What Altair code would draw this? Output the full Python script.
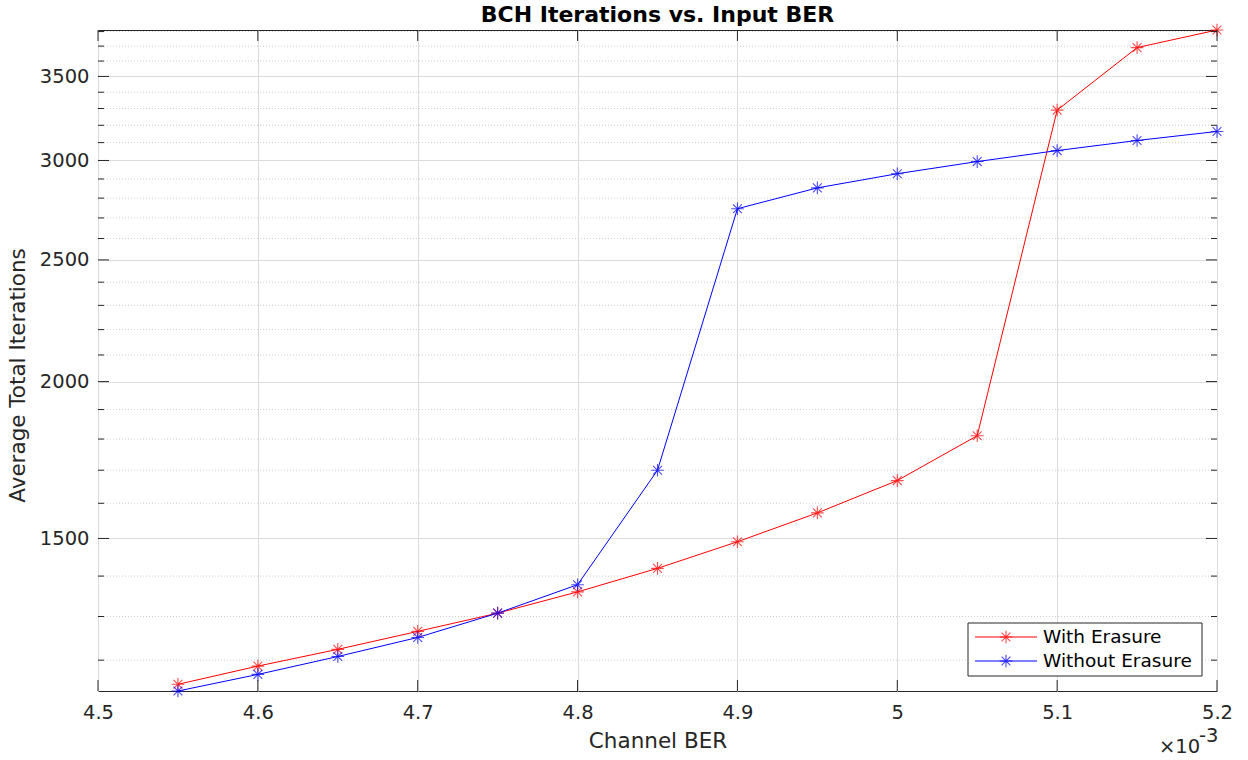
import altair as alt
import pandas as pd

# ---- data ----
ber = [4.55, 4.60, 4.65, 4.70, 4.75, 4.80, 4.85, 4.90, 4.95, 5.00, 5.05, 5.10, 5.15, 5.20]
with_erasure = [1148, 1187, 1224, 1265, 1308, 1360, 1420, 1491, 1572, 1668, 1811, 3290, 3690, 3811]
without_erasure = [1134, 1169, 1208, 1251, 1308, 1378, 1700, 2746, 2853, 2928, 2994, 3055, 3112, 3164]
series_names = ["With Erasure", "Without Erasure"]
series_colors = ["#ff0000", "#0000ff"]
x_ticks = [4.5, 4.6, 4.7, 4.8, 4.9, 5.0, 5.1, 5.2]
y_major = [1500, 2000, 2500, 3000, 3500]
y_minor = [1200, 1300, 1400, 1600, 1700, 1800, 1900, 2100, 2200, 2300, 2400,
           2600, 2700, 2800, 2900, 3100, 3200, 3300, 3400, 3600, 3700, 3800]

W, H = 1119, 661
FONT = "DejaVu Sans"
AX = "#262626"

df = pd.DataFrame({
    "ber": ber * 2,
    "iters": with_erasure + without_erasure,
    "series": [series_names[0]] * len(ber) + [series_names[1]] * len(ber),
})
ymin = min(with_erasure + without_erasure)
ymax = max(with_erasure + without_erasure)

xs = alt.Scale(domain=[4.5, 5.2], nice=False, zero=False)
ys = alt.Scale(type="log", domain=[ymin, ymax], nice=False, zero=False)
cs = alt.Scale(domain=series_names, range=series_colors)

asterisk = "M -1 0 L 1 0 M 0 -1 L 0 1 M -0.7 -0.7 L 0.7 0.7 M -0.7 0.7 L 0.7 -0.7"

minor_df = pd.DataFrame({"y": y_minor})
major_df = pd.DataFrame({"y": y_major})
xt_df = pd.DataFrame({"x": x_ticks})

# base axes + grid via an invisible layer
axes = alt.Chart(df).mark_point(opacity=0).encode(
    x=alt.X("ber:Q", scale=xs, title="Channel BER",
            axis=alt.Axis(values=x_ticks, format="~g", grid=True, gridColor="#dcdcdc",
                          gridWidth=1, domain=False, ticks=False, labelFontSize=19.5,
                          labelPadding=12, labelColor=AX, labelFont=FONT, labelFlush=False,
                          titleFont=FONT, titleFontSize=21.5, titleFontWeight="normal",
                          titleColor=AX, titlePadding=9)),
    y=alt.Y("iters:Q", scale=ys, title="Average Total Iterations",
            axis=alt.Axis(values=y_major, format="d", grid=True, gridColor="#dcdcdc",
                          gridWidth=1, domain=False, ticks=False, labelFontSize=19.5,
                          labelPadding=9, labelColor=AX, labelFont=FONT, labelFlush=False,
                          titleFont=FONT, titleFontSize=21.5, titleFontWeight="normal",
                          titleColor=AX, titleX=-69, titleY=345)),
)

minor_grid = alt.Chart(minor_df).mark_rule(color="#cfcfcf", strokeDash=[1, 2], strokeWidth=1).encode(
    y=alt.Y("y:Q", scale=ys), x=alt.value(0), x2=alt.value(W))

# inward ticks
tick_l_major = alt.Chart(major_df).mark_rule(color=AX).encode(
    y=alt.Y("y:Q", scale=ys), x=alt.value(0), x2=alt.value(11))
tick_r_major = alt.Chart(major_df).mark_rule(color=AX).encode(
    y=alt.Y("y:Q", scale=ys), x=alt.value(W - 11), x2=alt.value(W))
tick_l_minor = alt.Chart(minor_df).mark_rule(color=AX).encode(
    y=alt.Y("y:Q", scale=ys), x=alt.value(0), x2=alt.value(6))
tick_r_minor = alt.Chart(minor_df).mark_rule(color=AX).encode(
    y=alt.Y("y:Q", scale=ys), x=alt.value(W - 6), x2=alt.value(W))
tick_b = alt.Chart(xt_df).mark_rule(color=AX).encode(
    x=alt.X("x:Q", scale=xs), y=alt.value(H - 11), y2=alt.value(H))
tick_t = alt.Chart(xt_df).mark_rule(color=AX).encode(
    x=alt.X("x:Q", scale=xs), y=alt.value(0), y2=alt.value(11))

lines = alt.Chart(df).mark_line(strokeWidth=1).encode(
    x=alt.X("ber:Q", scale=xs),
    y=alt.Y("iters:Q", scale=ys),
    color=alt.Color("series:N", scale=cs, legend=None),
)
points = alt.Chart(df).mark_point(shape=asterisk, size=160, filled=False, strokeWidth=1.1).encode(
    x=alt.X("ber:Q", scale=xs),
    y=alt.Y("iters:Q", scale=ys),
    color=alt.Color("series:N", scale=cs, legend=None),
)

# manual MATLAB-style legend
lx0, ly0, lx1, ly1 = 870, 593, 1104, 646
leg_box = alt.Chart(pd.DataFrame({"a": [0]})).mark_rect(
    fill="white", stroke=AX, strokeWidth=1).encode(
    x=alt.value(lx0), x2=alt.value(lx1), y=alt.value(ly0), y2=alt.value(ly1))
leg_layers = [leg_box]
for i, (name, col) in enumerate(zip(series_names, series_colors)):
    yy = 607 + 24 * i
    d = pd.DataFrame({"series": [name]})
    leg_layers.append(alt.Chart(d).mark_rule(color=col, strokeWidth=1).encode(
        x=alt.value(877), x2=alt.value(939), y=alt.value(yy)))
    leg_layers.append(alt.Chart(d).mark_point(shape=asterisk, size=160, filled=False,
                                              strokeWidth=1.1, color=col).encode(
        x=alt.value(908), y=alt.value(yy)))
    leg_layers.append(alt.Chart(d).mark_text(align="left", baseline="middle", font=FONT,
                                             fontSize=18.5, color="black").encode(
        x=alt.value(945), y=alt.value(yy), text="series:N"))

title = alt.Chart(pd.DataFrame({"t": ["BCH Iterations vs. Input BER"]})).mark_text(
    font=FONT, fontSize=22, fontWeight="bold", color="black", align="center", baseline="middle").encode(
    x=alt.value(W / 2), y=alt.value(-15), text="t:N")

exp_base = alt.Chart(pd.DataFrame({"t": ["\u00d710"]})).mark_text(
    font=FONT, fontSize=19.5, color=AX, align="left", baseline="alphabetic").encode(
    x=alt.value(1061), y=alt.value(723), text="t:N")
exp_sup = alt.Chart(pd.DataFrame({"t": ["-3"]})).mark_text(
    font=FONT, fontSize=19.5, color=AX, align="left", baseline="alphabetic").encode(
    x=alt.value(1101), y=alt.value(712), text="t:N")

chart = alt.layer(
    axes, minor_grid, lines, points,
    tick_l_major, tick_r_major, tick_l_minor, tick_r_minor, tick_b, tick_t,
    *leg_layers, title, exp_base, exp_sup,
).properties(
    width=W, height=H,
    autosize=alt.AutoSizeParams(type="none"),
    padding={"left": 98, "top": 30, "right": 31, "bottom": 69},
    background="white",
).configure_view(stroke=AX, strokeWidth=1)

chart.save("out.html", embed_options={"renderer": "svg", "actions": False})
